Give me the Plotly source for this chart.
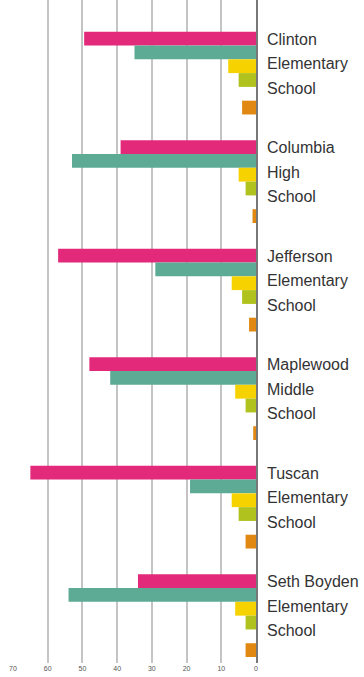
import plotly.graph_objects as go

schools = ["Clinton", "Columbia", "Jefferson", "Maplewood", "Tuscan", "Seth Boyden"]
school_labels = [
    ["Clinton", "Elementary", "School"],
    ["Columbia", "High", "School"],
    ["Jefferson", "Elementary", "School"],
    ["Maplewood", "Middle", "School"],
    ["Tuscan", "Elementary", "School"],
    ["Seth Boyden", "Elementary", "School"],
]
series_a = [49.5, 39, 57, 48, 65, 34]      # pink
series_b = [35, 53, 29, 42, 19, 54]        # teal
series_c = [8, 5, 7, 6, 7, 6]              # yellow
series_d = [5, 3, 4, 3, 5, 3]              # olive
series_e = [0, 0, 0, 0, 0, 0]              # empty slot
series_f = [4, 1, 2, 0.8, 3, 3]            # orange
blank = [0, 0, 0, 0, 0, 0]
tick_vals = [0, 10, 20, 30, 40, 50, 60, 70]

colors = ["rgba(0,0,0,0)", "#E2297A", "#5DAA95", "#F6D300", "#B0C21E", "rgba(0,0,0,0)", "#E08811"]
all_series = [blank, series_a, series_b, series_c, series_d, series_e, series_f]

fig = go.Figure()
for vals, col in zip(all_series, colors):
    fig.add_trace(go.Bar(y=schools, x=vals, orientation="h", marker=dict(color=col, line=dict(width=0)),
                         showlegend=False, hoverinfo="skip"))

for i, lines in enumerate(school_labels):
    for j, t in enumerate(lines):
        fig.add_annotation(x=1, xref="paper", xanchor="left", xshift=9,
                           y=schools[i], yref="y", yanchor="middle", yshift=(1 - j) * 24.5 + 2.5,
                           text=t, showarrow=False, align="left",
                           font=dict(family="Liberation Sans", size=16, color="#333"))

fig.update_layout(
    width=364, height=677,
    margin=dict(l=13, r=108, t=0, b=14),
    paper_bgcolor="white", plot_bgcolor="white",
    barmode="group", bargap=0.11, bargroupgap=0,
    xaxis=dict(range=[70, 0], tickvals=tick_vals, ticktext=[str(v) for v in tick_vals],
               showgrid=True, gridcolor="#c4c4c4", gridwidth=1.5, zeroline=False,
               tickfont=dict(family="Liberation Sans", size=7, color="#555"),
               ticks="", ticklen=0, fixedrange=True, showline=False),
    yaxis=dict(categoryorder="array", categoryarray=schools, range=[5.5, -0.61],
               showticklabels=False, showgrid=False, zeroline=False, ticks="",
               showline=True, side="right", linecolor="#777", linewidth=2),
)

fig.write_html("out.html")
